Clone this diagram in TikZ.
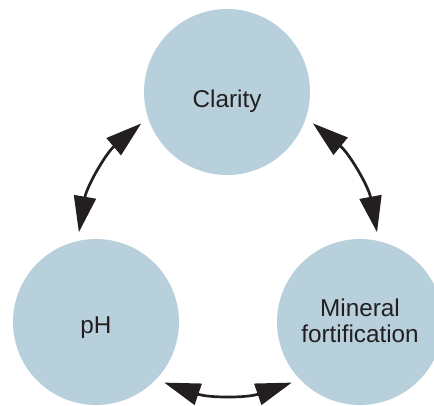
\documentclass[tikz,border=0pt]{standalone}
\usepackage{fontspec}
\setmainfont{Liberation Sans}
\usepackage{tikz}
\usetikzlibrary{positioning,arrows.meta}

\definecolor{bubble}{RGB}{184,208,220}
\definecolor{ink}{RGB}{35,31,32}

\begin{document}
\begin{tikzpicture}[x=1pt,y=-1pt,
    topic/.style={circle,fill=bubble,minimum size=166pt,inner sep=0pt,outer sep=0pt},
    word/.style={anchor=base,text=ink,align=center,font=\fontsize{24.3}{26}\selectfont},
    link/.style={{Triangle[length=36pt,width=22pt]}-{Triangle[length=36pt,width=22pt]},
        line width=2.7pt,color=ink,shorten <=9pt,shorten >=9pt}]
    \useasboundingbox (0,0) rectangle (434,405);
    \clip (0,0) rectangle (434,405);
    % the three circles
    \node[topic] (clarity) at (227,92) {};
    \node[topic] (ph) at (96,322) {};
    \node[topic] (mineral) at (360,322) {};
    % their texts
    \node[word] (claritytext) at (227,107) {Clarity};
    \node[word] (phtext) at (96,333) {pH};
    \node[word,anchor=south] (mineraltext) at (360,346) {Mineral\\fortification};
    % two-way arrows
    \draw[link] (clarity.198) to[bend right=20] (ph.103);
    \draw[link] (clarity.-18) to[bend left=20] (mineral.77);
    \draw[link] (ph.-44) to[bend right=19] (mineral.224);
\end{tikzpicture}
\end{document}
